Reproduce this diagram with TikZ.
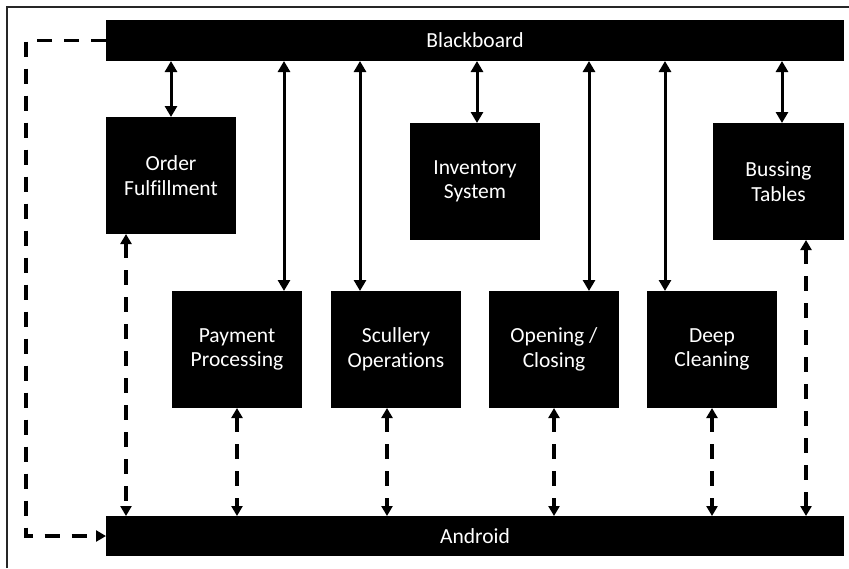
\documentclass[tikz,border=0pt]{standalone}
\usepackage{fontspec}
\setmainfont{Carlito}[Ligatures={NoCommon}]
\usetikzlibrary{arrows.meta}
\tikzset{
  blk/.style={fill=black, draw=none, inner sep=0pt, outer sep=0pt, text=white,
    align=center, font=\fontsize{21.5}{24.5}\selectfont},
  bar/.style={blk, minimum width=738pt},
  box/.style={blk, minimum width=130pt, minimum height=117pt},
  link/.style={line width=3pt, {Triangle[length=11pt,width=12pt]}-{Triangle[length=11pt,width=12pt]}},
  dlink/.style={line width=3.6pt, dash pattern=on 15pt off 12pt, {Triangle[length=10pt,width=11pt]}-{Triangle[length=10pt,width=11pt]}},
  frame/.style={line width=2pt, draw=black!85}
}
\begin{document}
\begin{tikzpicture}[x=1pt,y=-1pt]
\useasboundingbox (0,0) rectangle (849,568);
\draw[frame] (7,568) -- (7,7) -- (849,7);

\node[bar, minimum height=41pt] (bb) at (475,40.5) {Blackboard};
\node[bar, minimum height=40pt] (an) at (475,536) {Android};

\node[box] (of) at (171,175.5) {Order\\Fulfillment};
\node[box] (inv) at (475,181.5) {Inventory\\System};
\node[box, minimum width=131pt] (bus) at (778.5,181.5) {Bussing\\Tables};

\node[box] (pay) at (237,349.5) {Payment\\Processing};
\node[box] (scu) at (396,349.5) {Scullery\\Operations};
\node[box] (ope) at (554,349.5) {Opening /\\Closing};
\node[box] (dee) at (712,349.5) {Deep\\Cleaning};

% solid links to Blackboard
\draw[link] (of.north) -- (of.north |- bb.south);
\draw[link] ([xshift=2pt]inv.north) -- ([xshift=2pt]inv.north |- bb.south);
\draw[link] ([xshift=3.5pt]bus.north) -- ([xshift=3.5pt]bus.north |- bb.south);
\draw[link] ([xshift=47pt]pay.north) -- ([xshift=47pt]pay.north |- bb.south);
\draw[link] ([xshift=-36pt]scu.north) -- ([xshift=-36pt]scu.north |- bb.south);
\draw[link] ([xshift=35pt]ope.north) -- ([xshift=35pt]ope.north |- bb.south);
\draw[link] ([xshift=-47pt]dee.north) -- ([xshift=-47pt]dee.north |- bb.south);

% dashed links to Android
\draw[dlink] ([xshift=-45pt]of.south) -- ([xshift=-45pt]of.south |- an.north);
\draw[dlink] (pay.south) -- (pay.south |- an.north);
\draw[dlink] ([xshift=-9pt]scu.south) -- ([xshift=-9pt]scu.south |- an.north);
\draw[dlink] (ope.south) -- (ope.south |- an.north);
\draw[dlink] (dee.south) -- (dee.south |- an.north);
\draw[dlink] ([xshift=27.5pt]bus.south) -- ([xshift=27.5pt]bus.south |- an.north);

% loop from Blackboard to Android
\coordinate (c1) at (26,40.5);
\coordinate (c2) at (26,536);
\draw[line width=3.6pt, dash pattern=on 15pt off 12pt, -{Triangle[length=10pt,width=11pt]}]
  (bb.west) -- (c1) -- (c2) -- (an.west);
\end{tikzpicture}
\end{document}
